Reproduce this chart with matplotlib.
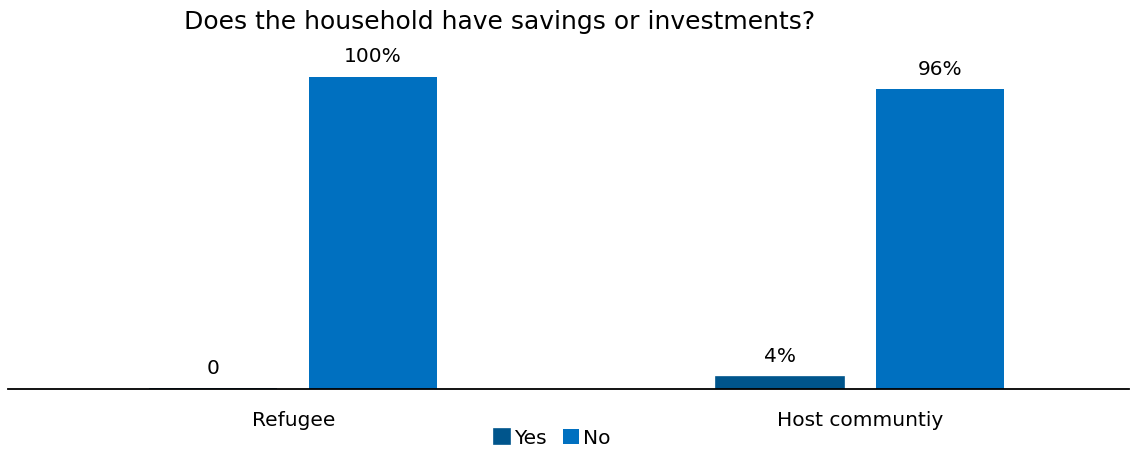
import matplotlib
matplotlib.use('Agg')
import matplotlib.pyplot as plt
import numpy as np

categories = ['Refugee', 'Host communtiy']
yes_vals = [0, 4]
no_vals = [100, 96]
yes_labels = ['0', '4%']
no_labels = ['100%', '96%']

yes_color = '#00558C'
no_color = '#0070C0'

W, H = 1137, 453
fig = plt.figure(figsize=(W / 100, H / 100), dpi=100)
ax = fig.add_axes([8 / W, 64 / H, 1121 / W, 349 / H])

x = np.arange(len(categories))
width = 0.226
offset = 0.141

b_yes = ax.bar(x - offset, yes_vals, width, color=yes_color, label='Yes',
               edgecolor=yes_color, linewidth=1.2)
b_no = ax.bar(x + offset, no_vals, width, color=no_color, label='No')

for rect, txt in zip(list(b_yes) + list(b_no), yes_labels + no_labels):
    ax.text(rect.get_x() + rect.get_width() / 2, rect.get_height() + 3.5, txt,
            ha='center', va='bottom', fontsize=14.5)

ax.set_xlim(-0.503, 1.474)
ax.set_ylim(0, 349 / 3.12)
ax.set_yticks([])
ax.set_xticks(x)
ax.set_xticklabels(categories, fontsize=14.5)
ax.tick_params(axis='x', length=0, pad=16)
for s in ['top', 'right', 'left']:
    ax.spines[s].set_visible(False)
ax.spines['bottom'].set_linewidth(1.3)

fig.text(500 / W, 1 - 22 / H, 'Does the household have savings or investments?',
         ha='center', va='center', fontsize=18)

fig.legend(handles=[b_yes, b_no], labels=['Yes', 'No'], loc='center',
           bbox_to_anchor=(552 / W, 1 - 438 / H), ncol=2, frameon=False,
           fontsize=14.5, handlelength=0.8, handleheight=0.8, handletextpad=0.2,
           columnspacing=0.8)

fig.savefig('out.png', dpi=100)
